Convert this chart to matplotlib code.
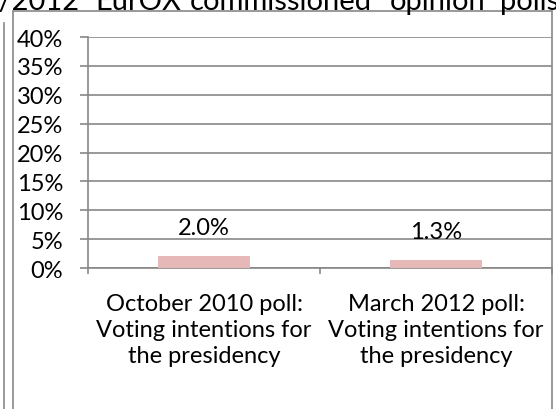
import matplotlib
matplotlib.use("Agg")
import matplotlib.pyplot as plt
from matplotlib.patches import Rectangle
from matplotlib.lines import Line2D
import numpy as np

categories = ["October 2010 poll:\nVoting intentions for\nthe presidency",
              "March 2012 poll:\nVoting intentions for\nthe presidency"]
values = [2.0, 1.3]
value_labels = ["2.0%", "1.3%"]
yticks = [0, 5, 10, 15, 20, 25, 30, 35, 40]
ytick_labels = ["0%", "5%", "10%", "15%", "20%", "25%", "30%", "35%", "40%"]
header_words = ["2010/2012", "EurOX", "commissioned", "opinion", "polls"]

plt.rcParams['font.family'] = ['Lato', 'DejaVu Sans']
W, H = 556, 410
fig = plt.figure(figsize=(W/100, H/100), dpi=100)

gray = "#878787"
# outer frames
fig.patches.append(Rectangle((13/W, -0.05), (552-13)/W, (410-12)/H + 0.05,
                             transform=fig.transFigure, fill=False,
                             edgecolor=gray, lw=1.2))
fig.lines.append(Line2D([3.5/W, 3.5/W], [0, 1 - 24/H], transform=fig.transFigure,
                        color=gray, lw=1.2))

# header line (cut off at the top edge, as in the reference)
hx = [80, 95, 190, 390, 500]
for i, (w, px) in enumerate(zip(header_words, hx)):
    fig.text(px/W, 1 - 10/H, w, fontsize=21, ha='right' if i == 0 else 'left',
             va='baseline', color='black')

ax = fig.add_axes([88/W, (H-269)/H, 464/W, (269-38)/H])
x = np.arange(len(values))
ax.bar(x, values, width=0.4, color="#E6B9B8", zorder=3)
for xi, v, lab in zip(x, values, value_labels):
    ax.annotate(lab, (xi, v), xytext=(0, 21), textcoords='offset points',
                ha='center', va='center', fontsize=17)

ax.set_ylim(0, 40)
ax.set_xlim(-0.5, len(values) - 0.5)
ax.set_yticks(yticks)
ax.set_yticklabels(ytick_labels, fontsize=17)
ax.yaxis.grid(True, color=gray, lw=1.2, zorder=0)
ax.set_xticks(x)
ax.set_xticklabels(categories, fontsize=17, linespacing=1.29)
ax.set_xticks(np.arange(-0.5, len(values)), minor=True)
ax.tick_params(axis='x', which='major', length=0, pad=18)
ax.tick_params(axis='x', which='minor', length=4.5, color=gray, width=1.2, direction='out')
ax.tick_params(axis='y', length=5.8, color=gray, width=1.2, pad=12)
for s in ['top', 'right']:
    ax.spines[s].set_visible(False)
for s in ['left', 'bottom']:
    ax.spines[s].set_color(gray)
    ax.spines[s].set_linewidth(1.2)
ax.set_axisbelow(True)

fig.savefig("out.png", dpi=100)
